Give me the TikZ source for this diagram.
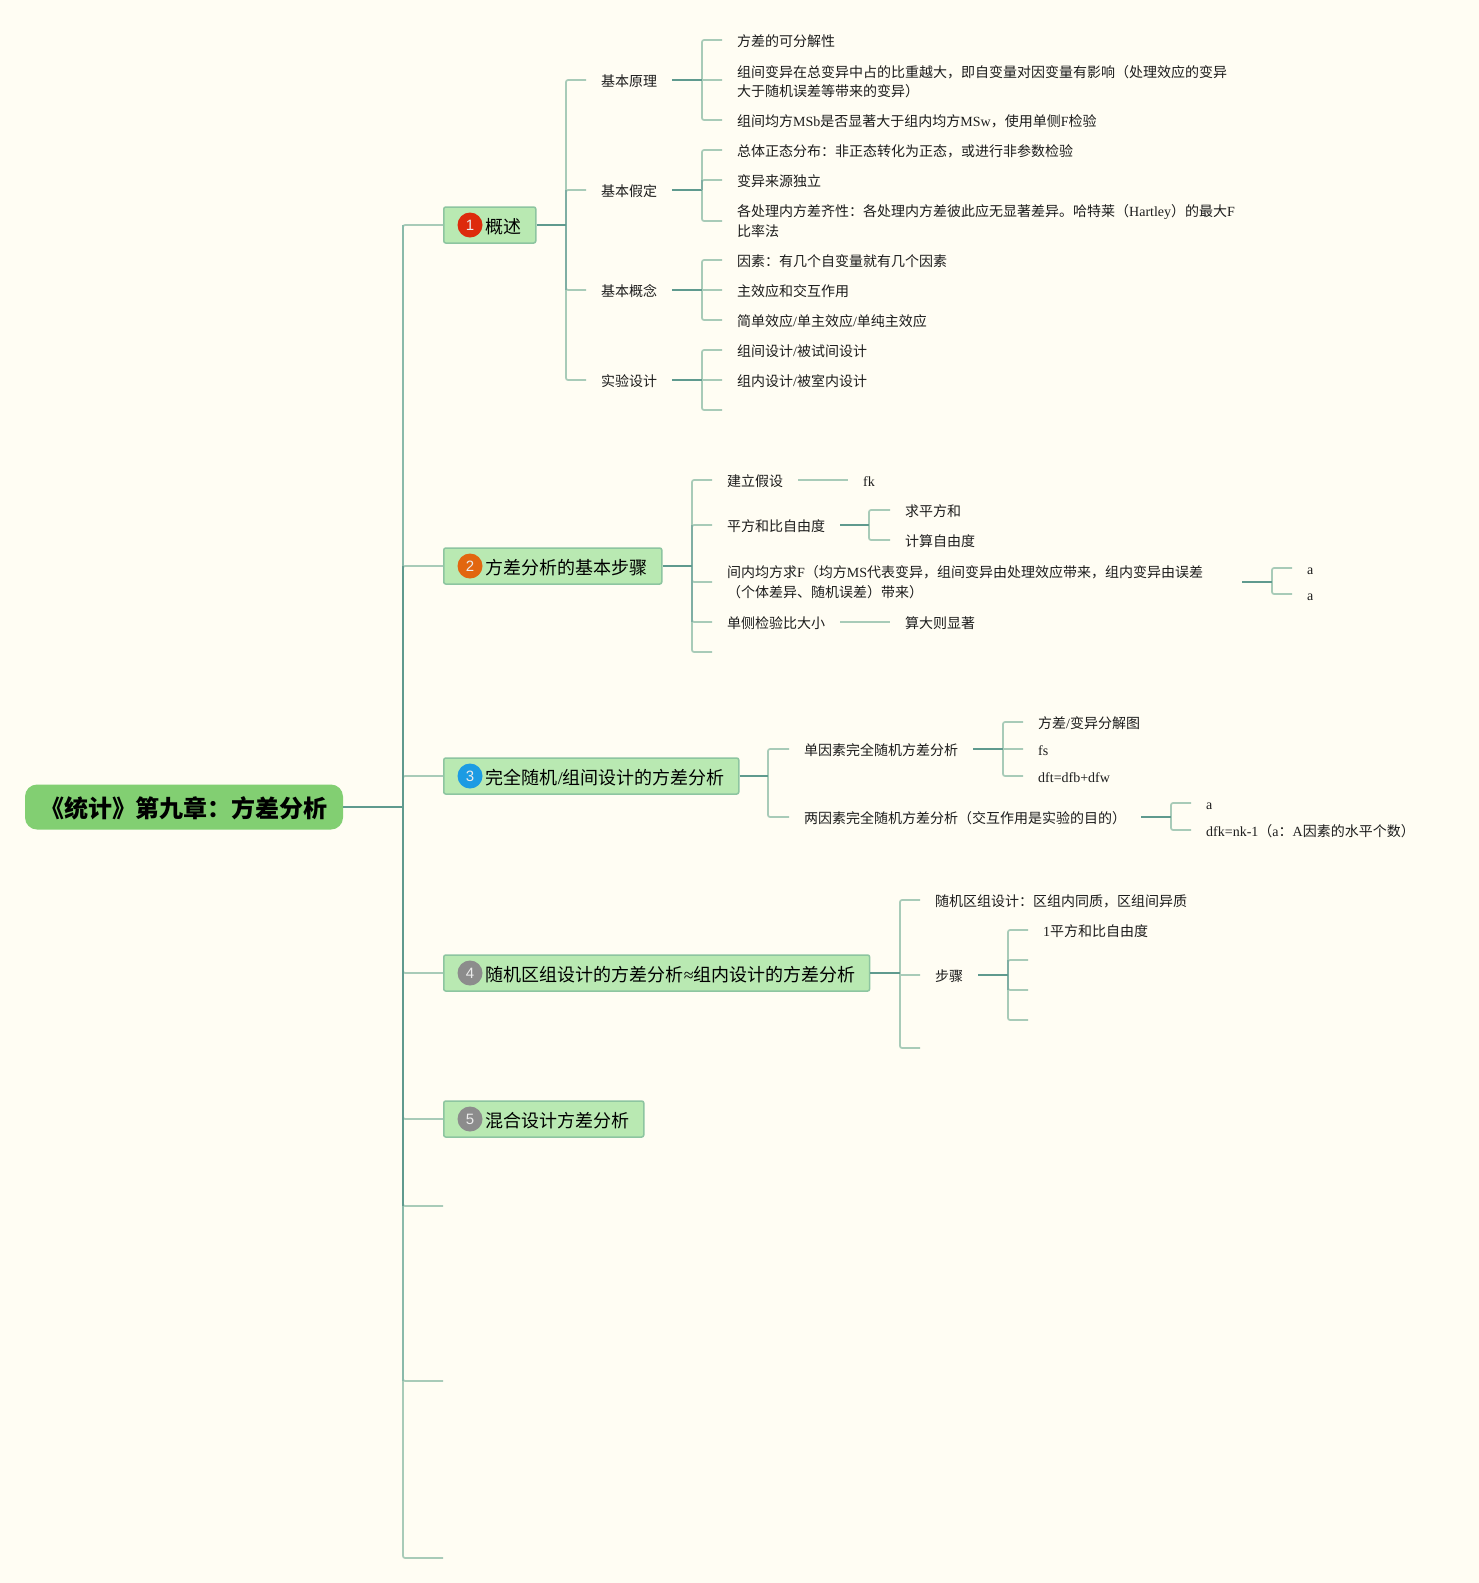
\documentclass[tikz,border=0pt]{standalone}
\usepackage{fontspec}
\setmainfont{Noto Sans CJK SC}
\newfontfamily\latfont{Liberation Serif}
\newfontfamily\digfont{Liberation Sans}
\newcommand{\la}[1]{{\latfont #1}}
\newcommand{\fcolon}{\symbol{"FF1A}}
\newcommand{\fcomma}{\symbol{"FF0C}}
\newcommand{\fopen}{\symbol{"FF08}}
\newcommand{\fclose}{\symbol{"FF09}}
\definecolor{paper}{HTML}{FFFDF3}
\definecolor{leafcol}{HTML}{A8CBB8}
\definecolor{midcol}{HTML}{8ABAAA}
\definecolor{spinecol}{HTML}{7FAEA3}
\definecolor{stemcol}{HTML}{5F9A8E}
\definecolor{rootcol}{HTML}{82CF72}
\definecolor{topiccol}{HTML}{B9E9B2}
\definecolor{topicline}{HTML}{8DC5A0}
\definecolor{inkcol}{HTML}{1C1C1C}
\definecolor{badgered}{HTML}{DD2A0C}
\definecolor{badgeorange}{HTML}{E2660F}
\definecolor{badgeblue}{HTML}{1C9BE3}
\definecolor{badgegray}{HTML}{8C8C8C}
\tikzset{
 leafline/.style={line width=1.7pt,leafcol,rounded corners=2pt},
 midline/.style={line width=1.8pt,midcol},
 spineline/.style={line width=1.8pt,spinecol},
 stemline/.style={line width=2pt,stemcol},
 rootbox/.style={fill=rootcol,rounded corners=12pt,minimum width=318pt,minimum height=45pt,inner sep=0pt,text height=21pt,text depth=1pt,font=\fontsize{24}{28}\selectfont\bfseries,text=black},
 topicbox/.style={anchor=west,fill=topiccol,draw=topicline,line width=1.5pt,rounded corners=2pt,inner xsep=15pt,inner ysep=0pt,minimum height=36pt,text height=19pt,text depth=3pt,font=\fontsize{18}{22}\selectfont,text=black},
 badge/.style={circle,minimum size=25pt,inner sep=0pt,text=white!85!gray,font=\digfont\fontsize{15}{15}\selectfont},
 leaf/.style={anchor=west,inner xsep=15pt,inner ysep=0pt,text height=15.5pt,text depth=2pt,font=\fontsize{14}{19.5}\selectfont,text=inkcol},
 leaftwo/.style={anchor=west,inner xsep=15pt,inner ysep=0pt,align=left,font=\fontsize{14}{19.5}\selectfont,text=inkcol},
}
\begin{document}
\begin{tikzpicture}[x=1pt,y=-1pt]
 \fill[paper] (0,0) rectangle (1479,1583);
 \useasboundingbox (0,0) rectangle (1479,1583);

 %Root and topics
 \node[rootbox] (root) at (184,807) {《统计》第九章\fcolon 方差分析};
 \node[topicbox] (t1) at (443,225) {\hspace*{27pt}概述\hspace*{-1pt}};
 \node[topicbox] (t2) at (443,566) {\hspace*{27pt}方差分析的基本步骤\hspace*{-1pt}};
 \node[topicbox] (t3) at (443,776) {\hspace*{27pt}完全随机\la{/}组间设计的方差分析\hspace*{-1pt}};
 \node[topicbox] (t4) at (443,973) {\hspace*{27pt}随机区组设计的方差分析\la{≈}组内设计的方差分析\hspace*{-1pt}};
 \node[topicbox] (t5) at (443,1119) {\hspace*{27pt}混合设计方差分析\hspace*{-1pt}};
 \coordinate (t6) at (443,1206);
 \coordinate (t7) at (443,1381);
 \coordinate (t8) at (443,1558);
 \node[badge,fill=badgered] (b1) at (470,225) {1};
 \node[badge,fill=badgeorange] (b2) at (470,566) {2};
 \node[badge,fill=badgeblue] (b3) at (470,776) {3};
 \node[badge,fill=badgegray] (b4) at (470,973) {4};
 \node[badge,fill=badgegray] (b5) at (470,1119) {5};

 %Trunk
 \coordinate (s0) at (403,807);
 \draw[leafline] (s0) |- (t1.west) (s0) |- (t2.west) (s0) |- (t3.west) (s0) |- (t4.west) (s0) |- (t5.west);
 \draw[leafline] (s0) |- (t6) (s0) |- (t7) (s0) |- (t8);
 \draw[midline] (t1.west -| s0) -- (t2.west -| s0);
 \draw[midline] (t6 -| s0) -- (t7 -| s0);
 \draw[stemline] (t2.west -| s0) -- (t6 -| s0);
 \draw[stemline] (root.east) -- (s0);

 %Topic 1
 \coordinate (s1) at (566,225);
 \node[leaf] (p11) at (586,80) {基本原理};
 \node[leaf] (p12) at (586,190) {基本假定};
 \node[leaf] (p13) at (586,290) {基本概念};
 \node[leaf] (p14) at (586,380) {实验设计};
 \draw[leafline] (s1) |- (p11.west) (s1) |- (p12.west) (s1) |- (p13.west) (s1) |- (p14.west);
 \draw[spineline] (p12.west -| s1) -- (p13.west -| s1);
 \draw[stemline] (t1.east) -- (s1);

 \coordinate (s11) at (702,80);
 \node[leaf] (q111) at (722,40) {方差的可分解性};
 \node[leaftwo] (q112) at (722,81.5) {组间变异在总变异中占的比重越大\fcomma 即自变量对因变量有影响\fopen 处理效应的变异\\大于随机误差等带来的变异\fclose};
 \node[leaf] (q113) at (722,120) {组间均方\la{MSb}是否显著大于组内均方\la{MSw}\fcomma 使用单侧\la{F}检验};
 \draw[leafline] (s11) |- (q111.west) (s11) -- (q112.west |- s11) (s11) |- (q113.west);
 \draw[stemline] (p11.east) -- (s11);

 \coordinate (s12) at (702,190);
 \node[leaf] (q121) at (722,150) {总体正态分布\fcolon 非正态转化为正态\fcomma 或进行非参数检验};
 \node[leaf] (q122) at (722,180) {变异来源独立};
 \node[leaftwo] (q123) at (722,221) {各处理内方差齐性\fcolon 各处理内方差彼此应无显著差异。哈特莱\fopen\la{Hartley}\fclose 的最大\la{F}\\比率法};
 \draw[leafline] (s12) |- (q121.west) (s12) |- (q122.west) (s12) |- (q123.west);
 \draw[stemline] (p12.east) -- (s12);
 \draw[spineline] (q122.west -| s12) -- (s12);

 \coordinate (s13) at (702,290);
 \node[leaf] (q131) at (722,260) {因素\fcolon 有几个自变量就有几个因素};
 \node[leaf] (q132) at (722,290) {主效应和交互作用};
 \node[leaf] (q133) at (722,320) {简单效应\la{/}单主效应\la{/}单纯主效应};
 \draw[leafline] (s13) |- (q131.west) (s13) -- (q132.west) (s13) |- (q133.west);
 \draw[stemline] (p13.east) -- (s13);

 \coordinate (s14) at (702,380);
 \node[leaf] (q141) at (722,350) {组间设计\la{/}被试间设计};
 \node[leaf] (q142) at (722,380) {组内设计\la{/}被室内设计};
 \coordinate (q143) at (722,410);
 \draw[leafline] (s14) |- (q141.west) (s14) -- (q142.west) (s14) |- (q143);
 \draw[stemline] (p14.east) -- (s14);

 %Topic 2
 \coordinate (s2) at (692,566);
 \node[leaf] (p21) at (712,480) {建立假设};
 \node[leaf] (p22) at (712,525) {平方和比自由度};
 \node[leaftwo,text width=500pt] (p23) at (712,582) {间内均方求\la{F}\fopen 均方\la{MS}代表变异\fcomma 组间变异由处理效应带来\fcomma 组内变异由误差\\\fopen 个体差异、随机误差\fclose 带来\fclose};
 \node[leaf] (p24) at (712,622) {单侧检验比大小};
 \coordinate (p25) at (712,652);
 \draw[leafline] (s2) |- (p21.west) (s2) |- (p22.west) (s2) |- (p23.west) (s2) |- (p24.west) (s2) |- (p25);
 \draw[spineline] (p22.west -| s2) -- (p24.west -| s2);
 \draw[stemline] (t2.east) -- (s2);

 \node[leaf] (q211) at (848,480) {\la{fk}};
 \draw[leafline] (p21.east) -- (q211.west);

 \coordinate (s22) at (869,525);
 \node[leaf] (q221) at (890,510) {求平方和};
 \node[leaf] (q222) at (890,540) {计算自由度};
 \draw[leafline] (s22) |- (q221.west) (s22) |- (q222.west);
 \draw[stemline] (p22.east) -- (s22);

 \coordinate (s23) at (1272,582);
 \node[leaf] (q231) at (1292,568) {\la{a}};
 \node[leaf] (q232) at (1292,594) {\la{a}};
 \draw[leafline] (s23) |- (q231.west) (s23) |- (q232.west);
 \draw[stemline] (p23.east) -- (s23);

 \node[leaf] (q241) at (890,622) {算大则显著};
 \draw[leafline] (p24.east) -- (q241.west);

 %Topic 3
 \coordinate (s3) at (768,776);
 \node[leaf] (p31) at (789,749) {单因素完全随机方差分析};
 \node[leaf] (p32) at (789,817) {两因素完全随机方差分析\fopen 交互作用是实验的目的\fclose};
 \draw[leafline] (s3) |- (p31.west) (s3) |- (p32.west);
 \draw[stemline] (t3.east) -- (s3);

 \coordinate (s31) at (1003,749);
 \node[leaf] (q311) at (1023,722) {方差\la{/}变异分解图};
 \node[leaf] (q312) at (1023,749) {\la{fs}};
 \node[leaf] (q313) at (1023,776) {\la{dft=dfb+dfw}};
 \draw[leafline] (s31) |- (q311.west) (s31) -- (q312.west) (s31) |- (q313.west);
 \draw[stemline] (p31.east) -- (s31);

 \coordinate (s32) at (1171,817);
 \node[leaf] (q321) at (1191,803) {\la{a}};
 \node[leaf] (q322) at (1191,830) {\la{dfk=nk-1}\fopen\la{a}\fcolon\la{A}因素的水平个数\fclose};
 \draw[leafline] (s32) |- (q321.west) (s32) |- (q322.west);
 \draw[stemline] (p32.east) -- (s32);

 %Topic 4
 \coordinate (s4) at (900,973);
 \node[leaf] (p41) at (920,900) {随机区组设计\fcolon 区组内同质\fcomma 区组间异质};
 \node[leaf] (p42) at (920,975) {步骤};
 \coordinate (p43) at (920,1048);
 \draw[leafline] (s4) |- (p41.west) (s4 |- p42.west) -- (p42.west) (s4) |- (p43);
 \draw[stemline] (t4.east) -- (s4);

 \coordinate (s42) at (1008,975);
 \node[leaf] (q421) at (1028,930) {\la{1}平方和比自由度};
 \coordinate (q422) at (1028,960);
 \coordinate (q423) at (1028,990);
 \coordinate (q424) at (1028,1020);
 \draw[leafline] (s42) |- (q421.west) (s42) |- (q422) (s42) |- (q423) (s42) |- (q424);
 \draw[spineline] (q422 -| s42) -- (q423 -| s42);
 \draw[stemline] (p42.east) -- (s42);
\end{tikzpicture}
\end{document}
